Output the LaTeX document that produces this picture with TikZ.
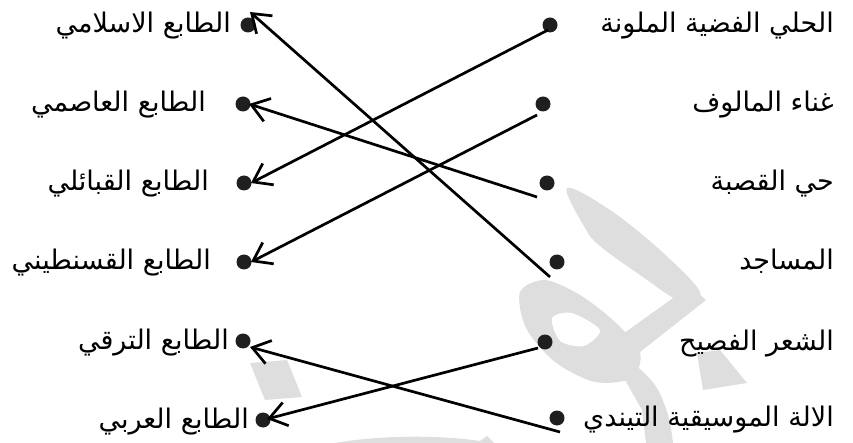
\documentclass[tikz,border=0pt]{standalone}
\usepackage{fontspec}
\usetikzlibrary{arrows.meta}
\newfontfamily\arabicfont[Script=Arabic]{DejaVu Sans}
\TeXXeTstate=1
\begin{document}
\begin{tikzpicture}[x=1pt,y=-1pt,
  dotnode/.style={circle,fill=black!88,inner sep=0pt,minimum size=15pt},
  lbl/.style={anchor=base east,inner sep=0pt,font=\arabicfont\fontsize{27}{30}\selectfont},
  conn/.style={line width=2.7pt,-{Straight Barb[length=17pt,width=24pt,line width=2.7pt]}},
  wmark/.style={fill=black!13,draw=none}]
\useasboundingbox (0,0) rectangle (853,443);
% faint watermark
\fill[wmark] (250,363) -- (287,360) -- (302,397) -- (265,400) -- cycle;
\fill[wmark] (697,353) -- (720,350) -- (747,383) -- (703,390) -- cycle;
\fill[wmark] plot[smooth cycle,tension=0.6] coordinates {(567,188) (610,210) (660,250) (700,292) (682,302) (640,275) (600,246) (585,228)};
\fill[wmark] (690,286) -- (706,300) -- (640,352) -- (620,336) -- cycle;
\fill[wmark,even odd rule] plot[smooth cycle] coordinates {(520,292) (545,280) (580,295) (615,322) (640,352) (632,378) (595,382) (555,362) (526,328)}
  plot[smooth cycle] coordinates {(552,318) (572,313) (600,330) (584,346) (560,341)};
\fill[wmark] plot[smooth,tension=0.6] coordinates {(632,362) (655,385) (668,415) (673,443)} -- (646,443) -- (642,410) -- (625,380) -- cycle;
\fill[wmark] (335,443) .. controls (380,435) and (440,435) .. (480,441) -- (487,436) -- (494,443) -- cycle;
% left dots
\node[dotnode] (l1) at (248,25) {};
\node[dotnode] (l2) at (243,104) {};
\node[dotnode] (l3) at (244,183) {};
\node[dotnode] (l4) at (244,262) {};
\node[dotnode] (l5) at (243,341) {};
\node[dotnode] (l6) at (263,420) {};
% right dots
\node[dotnode] (r1) at (550,25) {};
\node[dotnode] (r2) at (543,104) {};
\node[dotnode] (r3) at (547,183) {};
\node[dotnode] (r4) at (557,262) {};
\node[dotnode] (r5) at (545,342) {};
\node[dotnode] (r6) at (557,418) {};
% left labels
\node[lbl] (tl1) at (231,33) {\beginR الطابع الاسلامي\endR};
\node[lbl] (tl2) at (206,112) {\beginR الطابع العاصمي\endR};
\node[lbl] (tl3) at (209,191) {\beginR الطابع القبائلي\endR};
\node[lbl] (tl4) at (211,270) {\beginR الطابع القسنطيني\endR};
\node[lbl] (tl5) at (229,349) {\beginR الطابع الترقي\endR};
\node[lbl] (tl6) at (249,428) {\beginR الطابع العربي\endR};
% right labels
\node[lbl] (tr1) at (834,33) {\beginR الحلي الفضية الملونة\endR};
\node[lbl] (tr2) at (834,112) {\beginR غناء المالوف\endR};
\node[lbl] (tr3) at (834,191) {\beginR حي القصبة\endR};
\node[lbl] (tr4) at (834,270) {\beginR المساجد\endR};
\node[lbl] (tr5) at (834,350) {\beginR الشعر الفصيح\endR};
\node[lbl] (tr6) at (834,426) {\beginR الالة الموسيقية التيندي\endR};
% connector ends
\coordinate (s1) at (548,30);
\coordinate (s2) at (537,115);
\coordinate (s3) at (537,197);
\coordinate (s4) at (550,277);
\coordinate (s5) at (538,348);
\coordinate (s6) at (560,432);
\coordinate (t1) at (250,12);
\coordinate (t2) at (249,104);
\coordinate (t3) at (251,183);
\coordinate (t4) at (251,262);
\coordinate (t5) at (250,347);
\coordinate (t6) at (267,419);
\draw[conn] (s1) -- (t3);
\draw[conn] (s2) -- (t4);
\draw[conn] (s3) -- (t2);
\draw[conn] (s4) -- (t1);
\draw[conn] (s5) -- (t6);
\draw[conn] (s6) -- (t5);
\end{tikzpicture}
\end{document}
